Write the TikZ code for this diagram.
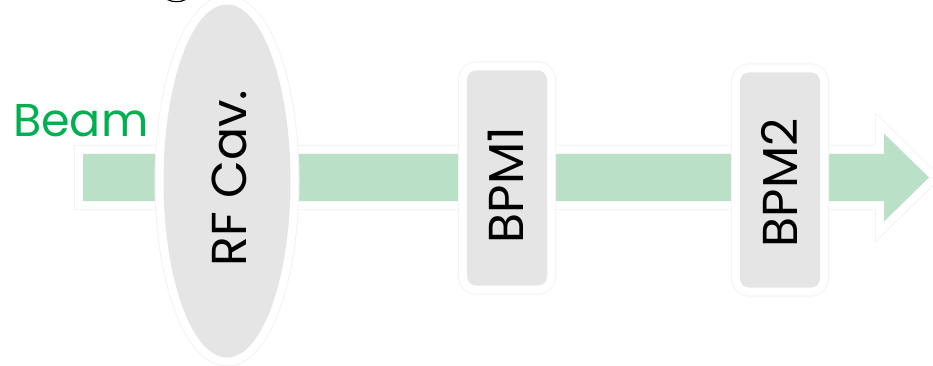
\documentclass[tikz,border=0pt]{standalone}
\usepackage{fontspec}
\setmainfont{Poppins}
\usetikzlibrary{shapes.geometric}
\definecolor{beamfill}{RGB}{186,224,200}
\definecolor{beamtext}{RGB}{0,176,80}
\definecolor{boxfill}{RGB}{229,229,229}
\definecolor{haloedge}{RGB}{243,243,243}
\tikzset{
  halo/.style={preaction={draw=haloedge,line width=18pt},preaction={draw=white,line width=16pt}},
  lbl/.style={font=\fontsize{49}{49}\selectfont, text=black, rotate=90},
  bpmbox/.style={rectangle, rounded corners=9pt, fill=boxfill, minimum width=80pt, minimum height=215pt, inner sep=0pt, halo},
}
\begin{document}
\begin{tikzpicture}[x=1pt,y=-1pt]
\useasboundingbox (0,0) rectangle (933,366);
% beam arrow
\fill[beamfill, halo] (83,154) -- (884,154) -- (884,133.5) -- (929,177.5) -- (884,221.5) -- (884,201) -- (83,201) -- cycle;
% fragment of cut-off glyph at top
\fill[black] (167,0) .. controls (172,3) and (181,3) .. (186,0) -- (183,0) .. controls (179,1.5) and (174,1.5) .. (170,0) -- cycle;
% RF cavity
\node[ellipse, fill=boxfill, minimum width=127pt, minimum height=353pt, inner sep=0pt, halo] (rf) at (227,181) {};
\node[lbl] (rflabel) at (229,178) {RF Cav.};
% BPMs
\node[bpmbox] (bpm1) at (507,178) {};
\node[lbl] (bpm1label) at (506,185) {BPM1};
\node[bpmbox] (bpm2) at (780,180) {};
\node[lbl] (bpm2label) at (779,183) {BPM2};
% Beam label
\node[anchor=base west, inner sep=0pt, text=beamtext, font=\fontsize{46}{46}\selectfont] (beam) at (13,137) {Beam};
\end{tikzpicture}
\end{document}
